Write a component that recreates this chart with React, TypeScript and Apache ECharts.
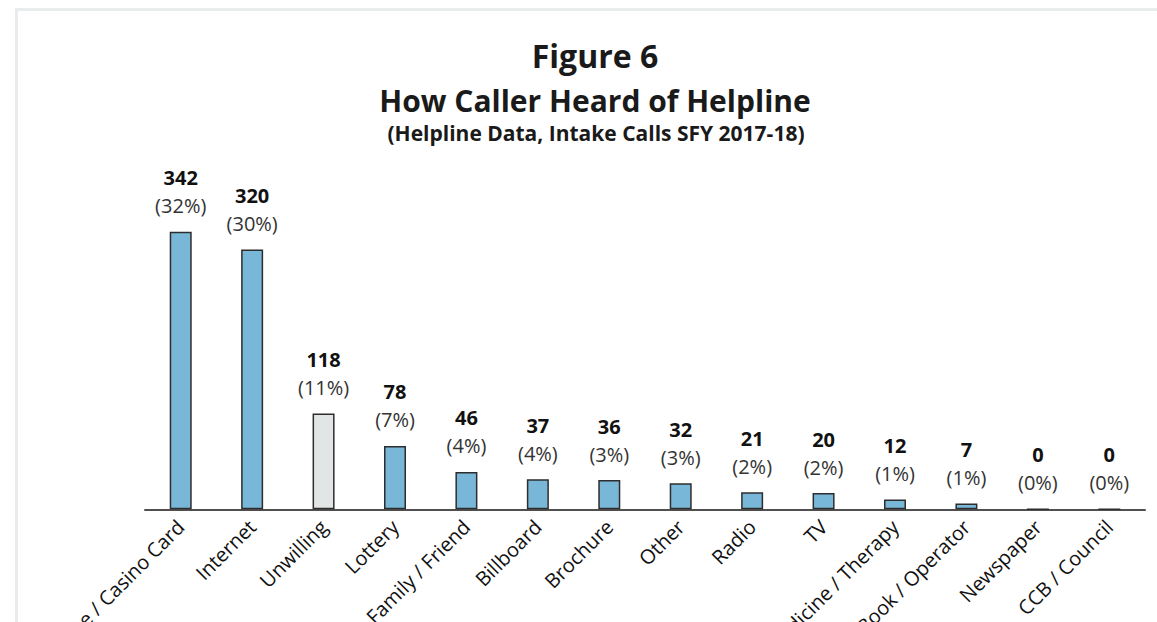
import React, { useEffect, useRef } from "react";
import * as echarts from "echarts";

const categories = [
  "Gaming Venue / Casino Card",
  "Internet",
  "Unwilling",
  "Lottery",
  "Family / Friend",
  "Billboard",
  "Brochure",
  "Other",
  "Radio",
  "TV",
  "Medicine / Therapy",
  "Phone Book / Operator",
  "Newspaper",
  "CCB / Council",
];
const counts = [342, 320, 118, 78, 46, 37, 36, 32, 21, 20, 12, 7, 0, 0];
const percents = ["32%", "30%", "11%", "7%", "4%", "4%", "3%", "3%", "2%", "2%", "1%", "1%", "0%", "0%"];
const grayCategory = "Unwilling";

const FONT = "'Open Sans', 'Noto Sans', sans-serif";

export default function App() {
  const ref = useRef<HTMLDivElement>(null);
  useEffect(() => {
    if (!ref.current) return;
    const chart = echarts.init(ref.current, null, { renderer: "svg" });
    const data = counts.map((v, i) => ({
      value: v,
      itemStyle: {
        color: categories[i] === grayCategory ? "#e2e5e5" : "#79b7d8",
      },
    }));
    chart.setOption({
      animation: false,
      backgroundColor: "#ffffff",
      graphic: [
        { type: "rect", shape: { x: 15, y: 8, width: 1142, height: 3 }, style: { fill: "#e8ecec" } },
        { type: "rect", shape: { x: 15, y: 8, width: 3, height: 614 }, style: { fill: "#e8ecec" } },
        {
          type: "text",
          x: 595,
          y: 55,
          style: { text: "Figure 6", font: `bold 32px ${FONT}`, fill: "#1a1a1a", textAlign: "center", textVerticalAlign: "middle" },
        },
        {
          type: "text",
          x: 595,
          y: 100,
          style: { text: "How Caller Heard of Helpline", font: `bold 30px ${FONT}`, fill: "#1a1a1a", textAlign: "center", textVerticalAlign: "middle" },
        },
        {
          type: "text",
          x: 596,
          y: 133,
          style: { text: "(Helpline Data, Intake Calls SFY 2017-18)", font: `bold 21px ${FONT}`, fill: "#1a1a1a", textAlign: "center", textVerticalAlign: "middle" },
        },
      ],
      grid: { left: 145, right: 12, top: 184.6, bottom: 112.7, containLabel: false, outerBoundsMode: "none" },
      xAxis: {
        type: "category",
        data: categories,
        axisLine: { show: true, lineStyle: { color: "#505050", width: 2 } },
        axisTick: { show: false },
        axisLabel: {
          rotate: 45,
          interval: 0,
          margin: 14,
          fontFamily: FONT,
          fontSize: 20,
          color: "#111111",
        },
      },
      yAxis: {
        type: "value",
        min: 0,
        max: 400,
        show: false,
        splitLine: { show: false },
      },
      series: [
        {
          type: "bar",
          data,
          barWidth: 22,
          itemStyle: { borderColor: "#2d2d2d", borderWidth: 1.5 },
          label: {
            show: true,
            position: "top",
            distance: 12,
            formatter: (p: any) => `{a|${p.value}}\n{b|(${percents[p.dataIndex]})}`,
            rich: {
              a: { fontFamily: FONT, fontWeight: "bold", fontSize: 20, color: "#111111", lineHeight: 28 },
              b: { fontFamily: FONT, fontSize: 20, color: "#333333", lineHeight: 28 },
            },
          },
        },
      ],
    });
    return () => chart.dispose();
  }, []);
  return <div ref={ref} style={{ position: "absolute", left: 0, top: 0, width: 1157, height: 622 }} />;
}
